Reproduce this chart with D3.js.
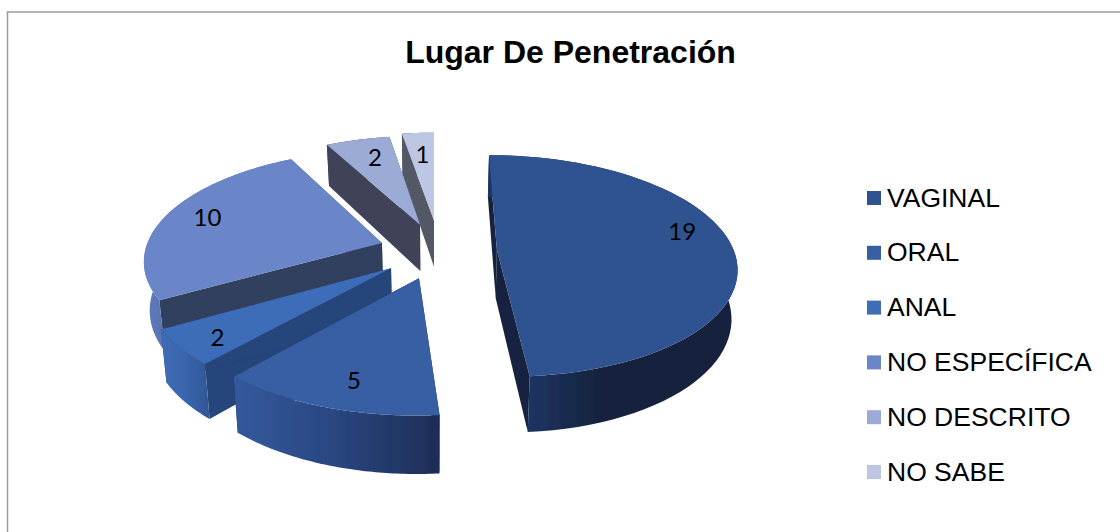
<!DOCTYPE html>
<html><head><meta charset="utf-8">
<script src="https://cdn.jsdelivr.net/npm/d3@7/dist/d3.min.js"></script>
<style>html,body{margin:0;padding:0;background:#fff}svg{display:block}</style>
</head><body><svg id="c" width="1120" height="532"></svg>
<script>
const categories = ["VAGINAL","ORAL","ANAL","NO ESPECÍFICA","NO DESCRITO","NO SABE"];
const values = [19,5,2,10,2,1];
const title = "Lugar De Penetración";
const topColors = ["#2f5390","#385fa4","#3e6cb8","#6a86c8","#9caad6","#bdc7e3"];
const faceColors = ["#16243f","#1e3560","#25447a","#333f60","#3f4358","#525866"];
const rimStops = [
  [[0.15,"#1e3563"],[0.45,"#14233c"],[1,"#14233c"]],
  [[0,"#34599c"],[0.5,"#29467f"],[1,"#1e2d55"]],
  [[0,"#3f6db6"],[0.5,"#3a66ac"],[1,"#2f5696"]],
  [[0,"#5f7cbc"],[0.2,"#566fae"],[1,"#566fae"]],
  [[0,"#3f4358"],[1,"#3f4358"]],
  [[0,"#525866"],[1,"#525866"]]
];
// layout: disc model and how far each slice is pulled out, in disc units
const R=237,k=0.4587,p=0.000608,cx=434,cy=251,H=48,sink=0.98;
const pulls=[[63,-2.2],[-14.5,57.5],[-42,36.7],[-52.6,-17.8],[-14.5,-59.4],[0,-69]];
const labelNudges=[[9,-16],[2,8],[-19,10],[-12,-5],[3,-3],[1,1]];
const drawOrder=[5,4,3,2,1,0];

const svg=d3.select("#c");
const defs=svg.append("defs");
defs.append("filter").attr("id","soft").attr("x","-5%").attr("y","-5%").attr("width","110%").attr("height","110%")
  .append("feGaussianBlur").attr("stdDeviation",0.45);
svg.append("rect").attr("x",7.5).attr("y",12).attr("width",1200).attr("height",600)
  .attr("fill","#fff").attr("stroke","#9a9a9a").attr("stroke-width",1.5);

svg.append("text").attr("x",570.5).attr("y",63).attr("text-anchor","middle")
  .attr("font-family","'Liberation Sans',Arial,sans-serif").attr("font-weight","bold")
  .attr("font-size",32).attr("fill","#000").text(title);

const pie=d3.pie().sort(null).value(d=>d)(values);
const line=d3.line();
function project(u,v,z){
  const s=1/(1-p*v);
  const X=cx+u*s, Y=cy+k*v*s;
  return z? [cx+(X-cx)*sink, Y+H*s] : [X,Y];
}
function rimPt(d,i,a,f=1){return [pulls[i][0]+f*R*Math.sin(a), pulls[i][1]-f*R*Math.cos(a)];}
const marks=svg.append("g").attr("filter","url(#soft)");
drawOrder.forEach(i=>{
  const d=pie[i];
  const apex=pulls[i];
  const steps=d3.range(0,1.0001,1/64).map(t=>d.startAngle+(d.endAngle-d.startAngle)*t);
  const rim=steps.map(a=>rimPt(d,i,a));
  const g=marks.append("g");
  const face=(pt)=>[project(apex[0],apex[1]),project(pt[0],pt[1]),project(pt[0],pt[1],1),project(apex[0],apex[1],1)];
  g.append("path").attr("d",line(face(rim[0]))+"Z").attr("fill",faceColors[i]);
  g.append("path").attr("d",line(face(rim[rim.length-1]))+"Z").attr("fill",faceColors[i]);
  const gid="rim"+i;
  const lg=defs.append("linearGradient").attr("id",gid);
  rimStops[i].forEach(s=>lg.append("stop").attr("offset",s[0]).attr("stop-color",s[1]));
  const wall=rim.map(q=>project(q[0],q[1])).concat(rim.slice().reverse().map(q=>project(q[0],q[1],1)));
  g.append("path").attr("d",line(wall)+"Z").attr("fill",`url(#${gid})`);
  const top=[project(apex[0],apex[1])].concat(rim.map(q=>project(q[0],q[1])));
  g.append("path").attr("d",line(top)+"Z").attr("fill",topColors[i]);
});

svg.append("g").selectAll("text").data(pie).join("text")
  .attr("font-family","Lato,Carlito,sans-serif").attr("font-size",24).attr("fill","#000")
  .attr("text-anchor","middle").attr("dominant-baseline","central")
  .attr("transform",(d,i)=>{
    const q=rimPt(d,i,(d.startAngle+d.endAngle)/2,0.75);
    const P=project(q[0],q[1]);
    return `translate(${P[0]+labelNudges[i][0]},${P[1]+labelNudges[i][1]})`;
  }).text(d=>d.data);

const ly=d3.scalePoint().domain(categories).range([198,472]);
const leg=svg.append("g").selectAll("g").data(categories).join("g")
  .attr("transform",c=>`translate(867,${ly(c)})`);
leg.append("rect").attr("x",0).attr("y",-7).attr("width",14).attr("height",14).attr("fill",(c,i)=>topColors[i]);
leg.append("text").attr("x",20).attr("y",8.5).attr("font-family","'Liberation Sans',Arial,sans-serif")
  .attr("font-size",26.5).attr("fill","#000").text(c=>c);
</script></body></html>
